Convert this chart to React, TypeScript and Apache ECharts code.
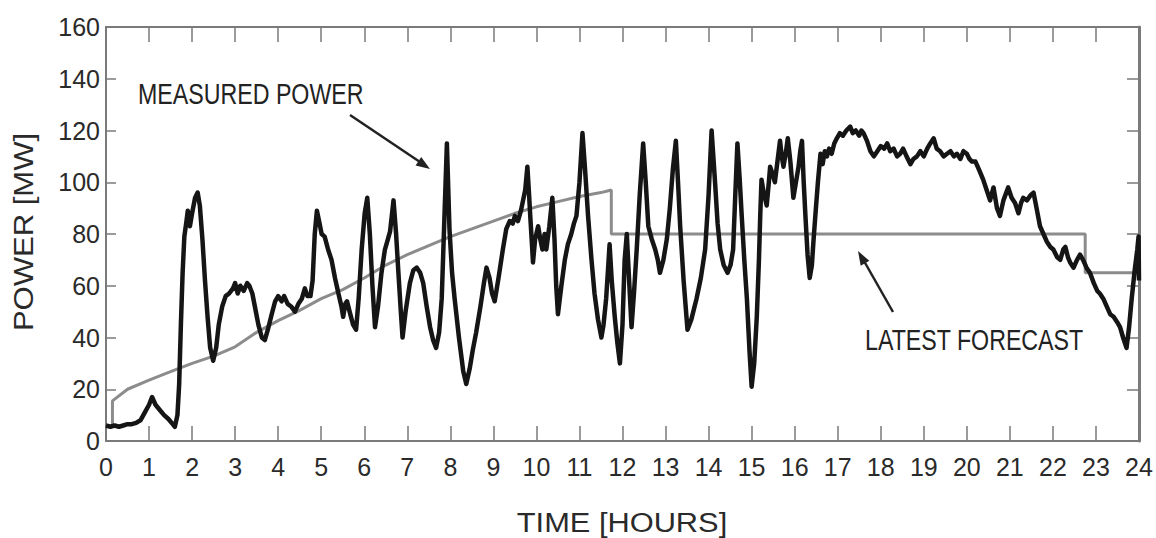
import React, { useEffect, useRef } from "react";
import * as echarts from "echarts";

// Measured power (MW) over time (hours)
const measuredHours = [
  0.00, 0.10, 0.20, 0.30, 0.40, 0.50, 0.60, 0.70, 0.80, 0.90, 1.00, 1.07, 1.15, 1.25, 1.35, 1.45, 1.55, 1.60, 1.66, 1.70,
  1.74, 1.78, 1.82, 1.87, 1.90, 1.95, 2.00, 2.07, 2.13, 2.18, 2.24, 2.30, 2.36, 2.42, 2.49, 2.56, 2.62, 2.70, 2.78, 2.86,
  2.95, 3.00, 3.06, 3.12, 3.20, 3.28, 3.33, 3.40, 3.47, 3.54, 3.62, 3.69, 3.76, 3.85, 3.93, 4.00, 4.08, 4.14, 4.22, 4.30,
  4.39, 4.47, 4.55, 4.62, 4.68, 4.75, 4.80, 4.85, 4.90, 4.95, 5.01, 5.08, 5.16, 5.24, 5.32, 5.40, 5.47, 5.51, 5.56, 5.60,
  5.66, 5.74, 5.81, 5.87, 5.94, 6.01, 6.07, 6.13, 6.19, 6.25, 6.32, 6.40, 6.48, 6.55, 6.60, 6.68, 6.74, 6.79, 6.85, 6.89,
  6.96, 7.06, 7.14, 7.22, 7.30, 7.37, 7.45, 7.53, 7.60, 7.67, 7.74, 7.80, 7.86, 7.92, 7.98, 8.04, 8.10, 8.20, 8.30, 8.37,
  8.45, 8.52, 8.60, 8.70, 8.78, 8.84, 8.91, 8.97, 9.03, 9.12, 9.22, 9.30, 9.38, 9.45, 9.50, 9.57, 9.64, 9.69, 9.74, 9.79,
  9.83, 9.86, 9.90, 9.92, 9.97, 10.04, 10.09, 10.14, 10.19, 10.23, 10.30, 10.37, 10.42, 10.46, 10.50, 10.58, 10.66, 10.73, 10.81, 10.87,
  10.93, 11.00, 11.07, 11.13, 11.20, 11.28, 11.35, 11.43, 11.51, 11.56, 11.62, 11.67, 11.70, 11.75, 11.82, 11.88, 11.94, 12.00, 12.05, 12.10,
  12.16, 12.21, 12.27, 12.33, 12.40, 12.48, 12.54, 12.60, 12.68, 12.76, 12.82, 12.87, 12.95, 13.03, 13.10, 13.17, 13.24, 13.29, 13.34, 13.42,
  13.51, 13.60, 13.72, 13.82, 13.92, 14.00, 14.07, 14.15, 14.21, 14.27, 14.35, 14.44, 14.51, 14.57, 14.62, 14.67, 14.72, 14.77, 14.83, 14.89,
  14.95, 15.00, 15.06, 15.12, 15.17, 15.20, 15.23, 15.28, 15.35, 15.40, 15.43, 15.49, 15.54, 15.60, 15.66, 15.70, 15.74, 15.80, 15.84, 15.90,
  15.97, 16.03, 16.09, 16.13, 16.17, 16.21, 16.25, 16.30, 16.35, 16.40, 16.44, 16.48, 16.54, 16.60, 16.65, 16.70, 16.75, 16.80, 16.86, 16.92,
  16.98, 17.05, 17.12, 17.20, 17.29, 17.35, 17.42, 17.50, 17.55, 17.60, 17.68, 17.76, 17.84, 17.92, 18.00, 18.08, 18.15, 18.22, 18.30, 18.38,
  18.45, 18.52, 18.60, 18.69, 18.76, 18.84, 18.92, 19.00, 19.08, 19.15, 19.23, 19.30, 19.38, 19.46, 19.54, 19.62, 19.70, 19.77, 19.85, 19.92,
  20.00, 20.06, 20.12, 20.20, 20.28, 20.38, 20.46, 20.54, 20.62, 20.70, 20.77, 20.85, 20.96, 21.04, 21.12, 21.20, 21.26, 21.31, 21.40, 21.48,
  21.55, 21.62, 21.70, 21.78, 21.86, 21.94, 22.01, 22.10, 22.17, 22.24, 22.29, 22.35, 22.40, 22.48, 22.56, 22.63, 22.70, 22.78, 22.86, 22.95,
  23.03, 23.09, 23.17, 23.25, 23.33, 23.41, 23.49, 23.56, 23.63, 23.71, 23.77, 23.83, 23.90, 23.96, 23.99, 24.00,
];
const measuredMW = [
  6, 5.5, 6, 5.5, 6, 6.5, 6.5, 7, 8, 11, 14, 17, 14, 12, 10, 8.5, 6.5, 5.5, 10, 22,
  45, 65, 79, 85, 89, 83, 88, 94, 96, 91, 78, 62, 48, 36, 31, 36, 45, 52, 56, 57,
  59, 61, 57, 60, 58, 61, 60, 57, 51, 45, 40, 39, 43, 49, 54, 56, 54, 56, 53, 52,
  50, 53, 55, 59, 56, 56, 62, 80, 89, 85, 80, 79, 74, 70, 63, 57, 52, 48, 53, 54,
  50, 45, 43, 55, 74, 88, 94, 80, 60, 44, 52, 65, 74, 78, 81, 93, 80, 66, 50, 40,
  50, 61, 66, 67, 65, 61, 52, 44, 39, 36, 42, 55, 85, 115, 82, 65, 55, 40, 27, 22,
  28, 35, 42, 52, 61, 67, 63, 57, 54, 63, 74, 82, 85, 84, 87, 85, 89, 93, 97, 106,
  95, 86, 75, 69, 78, 83, 78, 74, 80, 74, 83, 94, 78, 60, 49, 60, 70, 76, 80, 84,
  87, 100, 119, 105, 87, 70, 57, 47, 40, 45, 55, 68, 76, 62, 48, 38, 30, 45, 70, 80,
  60, 44, 58, 74, 95, 115, 100, 83, 78, 74, 70, 65, 70, 78, 90, 105, 116, 100, 83, 62,
  43, 47, 55, 63, 74, 95, 120, 100, 84, 74, 68, 65, 68, 74, 95, 115, 102, 87, 70, 55,
  35, 21, 30, 48, 70, 87, 101, 96, 91, 100, 106, 103, 100, 108, 116, 110, 106, 112, 117, 108,
  94, 100, 106, 112, 116, 100, 87, 72, 63, 68, 78, 87, 100, 111, 107, 112, 110, 113, 111, 115,
  117, 119, 118, 120, 121.5, 119, 120, 118, 120, 119, 116, 112, 110, 112, 114, 113, 115, 112, 113, 110,
  111, 113, 110, 107, 109, 110, 112, 110, 113, 115, 117, 113, 112, 110, 111, 112, 110, 111, 109, 112,
  111, 109, 108, 108, 105, 101, 97, 93, 98, 90, 87, 93, 98, 94, 92, 88, 92, 94, 93, 95,
  96, 90, 83, 80, 77, 75, 74, 71, 70, 74, 75, 71, 69, 67, 70, 72, 70, 67, 65, 61,
  58, 57, 55, 52, 49, 48, 46, 44, 40, 36, 44, 55, 66, 74, 79, 62,
];

// Latest forecast (MW) over time (hours)
const forecastHours = [
  0.15, 0.15, 0.5, 1, 1.5, 2, 2.5, 3, 3.5, 4, 4.5, 5, 5.5, 6, 6.5, 7, 7.5, 8, 8.5, 9,
  9.5, 10, 10.5, 11, 11.5, 11.74, 11.74, 22.75, 22.75, 24,
];
const forecastMW = [
  6, 15.5, 20, 23.5, 26.8, 30, 32.8, 36.4, 42, 46.5, 50.5, 55, 58.5, 63, 68, 72, 75.5, 79, 82, 85,
  88, 90.5, 92.5, 94.5, 96, 97, 80, 80, 65, 65,
];

const xTicks = [0, 24, 1];
const yTicks = [0, 160, 20];

const xTitle = "TIME [HOURS]";
const yTitle = "POWER [MW]";
const measuredLabel = "MEASURED POWER";
const forecastLabel = "LATEST FORECAST";

const AXIS_GREY = "#7a7a7a";
const FONT = "'Liberation Sans', Arial, sans-serif";

export default function App() {
  const ref = useRef<HTMLDivElement>(null);

  useEffect(() => {
    document.body.style.margin = "0";
    if (!ref.current) return;
    const chart = echarts.init(ref.current, null, { renderer: "svg" });
    const measured = measuredHours.map((h, i) => [h, measuredMW[i]]);
    const forecast = forecastHours.map((h, i) => [h, forecastMW[i]]);

    const axisCommonX = {
      type: "value" as const,
      min: xTicks[0],
      max: xTicks[1],
      interval: xTicks[2],
      splitLine: { show: false },
      axisLine: { show: true, onZero: false, lineStyle: { color: AXIS_GREY, width: 2 } },
      axisTick: { show: true, inside: true, length: 15, lineStyle: { color: AXIS_GREY, width: 1.5 } },
    };
    const axisCommonY = {
      type: "value" as const,
      min: yTicks[0],
      max: yTicks[1],
      interval: yTicks[2],
      splitLine: { show: false },
      axisLine: { show: true, onZero: false, lineStyle: { color: AXIS_GREY, width: 2 } },
      axisTick: { show: true, inside: true, length: 10, lineStyle: { color: AXIS_GREY, width: 1.5 } },
    };

    chart.setOption({
      animation: false,
      backgroundColor: "#ffffff",
      grid: { left: 106, right: 17, top: 27, bottom: 97, containLabel: false },
      xAxis: [
        {
          ...axisCommonX,
          position: "bottom",
          axisLabel: { show: true, fontSize: 25, fontFamily: FONT, color: "#2a2a2a", margin: 13 },
        },
        { ...axisCommonX, position: "top", axisLabel: { show: false } },
      ],
      yAxis: [
        {
          ...axisCommonY,
          position: "left",
          axisLabel: { show: true, fontSize: 25, fontFamily: FONT, color: "#2a2a2a", margin: 6 },
        },
        {
          ...axisCommonY,
          position: "right",
          axisLine: { show: true, onZero: false, lineStyle: { color: AXIS_GREY, width: 3 } },
          axisTick: { show: true, inside: true, length: 12, lineStyle: { color: AXIS_GREY, width: 1.5 } },
          axisLabel: { show: false },
        },
      ],
      series: [
        {
          name: "Latest forecast",
          type: "line",
          data: forecast,
          showSymbol: false,
          lineStyle: { color: "#8c8c8c", width: 3 },
          z: 2,
        },
        {
          name: "Measured power",
          type: "line",
          data: measured,
          showSymbol: false,
          lineStyle: { color: "#151515", width: 4.5, join: "round" },
          z: 3,
        },
      ],
      graphic: [
        {
          type: "text",
          x: 138,
          y: 94,
          scaleX: 0.8,
          style: { text: measuredLabel, font: `29px ${FONT}`, fill: "#222", align: "left", verticalAlign: "middle" },
        },
        {
          type: "line",
          shape: { x1: 350, y1: 115, x2: 420, y2: 162 },
          style: { stroke: "#222", lineWidth: 2.5 },
        },
        {
          type: "polygon",
          shape: { points: [[430, 169], [415.6, 165.4], [421.2, 157.0]] },
          style: { fill: "#222" },
        },
        {
          type: "text",
          x: 865,
          y: 340,
          scaleX: 0.8,
          style: { text: forecastLabel, font: `29px ${FONT}`, fill: "#222", align: "left", verticalAlign: "middle" },
        },
        {
          type: "line",
          shape: { x1: 893, y1: 312, x2: 864, y2: 261 },
          style: { stroke: "#222", lineWidth: 2.5 },
        },
        {
          type: "polygon",
          shape: { points: [[858, 251], [869.3, 260.7], [860.7, 265.7]] },
          style: { fill: "#222" },
        },
        {
          type: "text",
          x: 622,
          y: 522,
          scaleX: 1.1,
          style: { text: xTitle, font: `28px ${FONT}`, fill: "#2a2a2a", align: "center", verticalAlign: "middle" },
        },
        {
          type: "text",
          x: 24,
          y: 232,
          rotation: Math.PI / 2,
          scaleX: 1.15,
          style: { text: yTitle, font: `27px ${FONT}`, fill: "#2a2a2a", align: "center", verticalAlign: "middle" },
        },
      ],
    });

    return () => chart.dispose();
  }, []);

  return (
    <div
      ref={ref}
      style={{ position: "absolute", left: 0, top: 0, width: 1156, height: 538 }}
    />
  );
}
